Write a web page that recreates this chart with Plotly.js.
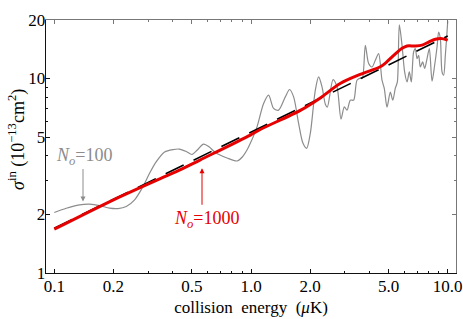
<!DOCTYPE html>
<html>
<head>
<meta charset="utf-8">
<script src="https://cdn.plot.ly/plotly-3.0.1.min.js"></script>
<style>html,body{margin:0;padding:0;background:#fff;}#chart{width:463px;height:319px;}</style>
</head>
<body>
<div id="chart"></div>
<script>
// N_o = 100 (gray, oscillating)
var grayX = [0.1,0.1151,0.1345,0.1512,0.17,0.1911,0.2108,0.2323,0.256,0.2824,0.3051,0.3301,0.3637,0.4014,0.4319,0.469,0.5012,0.5333,0.5741,0.6138,0.6584,0.7551,0.8487,0.9032,0.9543,0.992,1.073,1.159,1.229,1.303,1.381,1.494,1.571,1.647,1.746,1.838,1.918,2.002,2.123,2.207,2.296,2.387,2.443,2.612,2.737,2.868,2.981,3.077,3.198,3.324,3.458,3.595,3.68,3.812,3.963,4.123,4.284,4.454,4.634,4.76,4.913,5.107,5.259,5.415,5.543,5.674,5.857,6.038,6.21,6.379,6.531,6.707,6.843,6.981,7.114,7.256,7.455,7.632,7.85,8.064,8.323,8.579,8.823,8.99,9.172,9.355,9.533,9.723,9.918,10.0];
var grayY = [2.046,2.154,2.24,2.258,2.222,2.154,2.144,2.196,2.376,2.781,3.257,3.736,4.19,4.314,4.339,4.213,4.067,4.289,4.604,4.443,4.165,3.903,3.767,3.948,4.289,4.642,5.646,7.443,8.212,7.018,6.878,8.048,8.782,8.048,5.878,4.642,4.375,5.224,8.71,10.19,9.057,7.382,7.125,9.88,9.057,6.183,7.152,6.878,7.741,7.741,9.8,10.04,10.04,14.82,11.94,11.47,12.41,13.43,9.8,8.886,7.125,8.506,7.741,8.918,9.572,18.88,14.82,10.81,9.607,10.81,9.607,13.69,14.25,12.66,13.17,11.47,12.17,11.26,12.66,14.25,9.687,11.7,14.53,17.34,16.04,10.81,10.4,13.17,17.34,19.79];
// N_o = 1000 (red, smooth)
var redX = [0.1,0.2,0.346,0.417,0.55,0.992,1.115,1.79,2.25,2.84,3.59,4.54,4.82,5.42,5.86,6.21,6.84,7.4,8.0,8.65,9.36,10.0];
var redY = [1.68,2.38,3.06,3.32,3.81,5.12,5.47,6.88,7.95,9.43,10.5,11.5,12.0,13.4,14.3,14.7,14.7,14.85,15.41,15.91,16.04,15.75];
// power-law guide (dashed)
var fitX = [0.1, 10.0];
var fitY = [1.70, 16.55];
// ticks
var xTickVals = [0.1,0.2,0.5,1,2,5,10];
var xTickText = ["0.1","0.2","0.5","1.0","2.0","5.0","10.0"];
var yTickVals = [1,2,5,10,20];
var yTickText = ["1","2","5","10","20"];

var FONT = "Liberation Serif, Times New Roman, serif";
var xr = [-1.042, 1.042];
var yr = [0, Math.log10(20)];

var traces = [
  {x: grayX, y: grayY, mode: 'lines', line: {color: 'rgb(140,140,140)', width: 1.2, shape: 'spline', smoothing: 0.8}, hoverinfo: 'skip'},
  {x: fitX, y: fitY, mode: 'lines', line: {color: '#000', width: 1.6, dash: '20px,11px'}, hoverinfo: 'skip'},
  {x: redX, y: redY, mode: 'lines', line: {color: 'rgb(230,0,0)', width: 3, shape: 'spline', smoothing: 0.9}, hoverinfo: 'skip'},
  {x: [], y: [], xaxis: 'x2', yaxis: 'y2', mode: 'lines', hoverinfo: 'skip'}
];

var layout = {
  width: 463, height: 319,
  margin: {l: 46, r: 7, t: 20, b: 46},
  paper_bgcolor: '#fff', plot_bgcolor: '#fff',
  showlegend: false,
  font: {family: FONT, size: 17, color: '#000'},
  xaxis: {
    type: 'log', range: xr, showgrid: false, zeroline: false,
    showline: true, linecolor: '#111', linewidth: 1.3,
    ticks: 'inside', ticklen: 4, tickcolor: '#111',
    tickvals: xTickVals, ticktext: xTickText,
    tickfont: {family: FONT, size: 17},
    ticklabelstandoff: -3,
    minor: {ticks: 'inside', ticklen: 2, tickcolor: '#111', dtick: 'D1', showgrid: false},
    title: {text: 'collision  energy  (<i>μ</i>K)', font: {family: FONT, size: 17}, standoff: 6}
  },
  yaxis: {
    type: 'log', range: yr, showgrid: false, zeroline: false,
    showline: true, linecolor: '#111', linewidth: 1.3,
    ticks: 'inside', ticklen: 4, tickcolor: '#111',
    tickvals: yTickVals, ticktext: yTickText,
    tickfont: {family: FONT, size: 17},
    ticklabelstandoff: -4,
    minor: {ticks: 'inside', ticklen: 2, tickcolor: '#111', dtick: 'D1', showgrid: false}
  },
  xaxis2: {
    type: 'log', range: xr, overlaying: 'x', side: 'top', anchor: 'y',
    showgrid: false, zeroline: false, showline: true, linecolor: '#777', linewidth: 1.3,
    ticks: 'inside', ticklen: 4, tickcolor: '#777', tickvals: xTickVals, showticklabels: false,
    minor: {ticks: 'inside', ticklen: 2, tickcolor: '#777', dtick: 'D1', showgrid: false}
  },
  yaxis2: {
    type: 'log', range: yr, overlaying: 'y', side: 'right', anchor: 'x',
    showgrid: false, zeroline: false, showline: true, linecolor: '#777', linewidth: 1.3,
    ticks: 'inside', ticklen: 4, tickcolor: '#777', tickvals: yTickVals, showticklabels: false,
    minor: {ticks: 'inside', ticklen: 2, tickcolor: '#777', dtick: 'D1', showgrid: false}
  },
  annotations: [
    {xref: 'paper', yref: 'paper', x: (17-46)/410, y: (273-140)/253, xanchor: 'center', yanchor: 'middle',
     textangle: -90, text: '<i>σ</i><sup>in</sup> (10<sup>−13</sup>cm<sup>2</sup>)', showarrow: false,
     font: {family: FONT, size: 18, color: '#000'}},
    {xref: 'paper', yref: 'paper', x: (84.3-46)/410, y: (273-156)/253, xanchor: 'center', yanchor: 'middle',
     text: '<i>N</i><sub><i>o</i></sub>=100', showarrow: false, font: {family: FONT, size: 18, color: 'rgb(140,140,140)'}},
    {x: Math.log10(0.140), y: Math.log10(2.33), xref: 'x', yref: 'y', text: '', showarrow: true,
     ax: 0, ay: -34, arrowhead: 2, arrowsize: 1, arrowwidth: 1, arrowcolor: 'rgb(140,140,140)'},
    {xref: 'paper', yref: 'paper', x: (206.7-46)/410, y: (273-219.3)/253, xanchor: 'center', yanchor: 'middle',
     text: '<i>N</i><sub><i>o</i></sub>=1000', showarrow: false, font: {family: FONT, size: 18, color: 'rgb(230,0,0)'}},
    {x: Math.log10(0.5636), y: Math.log10(3.455), xref: 'x', yref: 'y', text: '', showarrow: true,
     ax: 0, ay: 38, arrowhead: 2, arrowsize: 1, arrowwidth: 1, arrowcolor: 'rgb(230,0,0)'}
  ]
};

Plotly.newPlot('chart', traces, layout, {staticPlot: true, displayModeBar: false});
</script>
</body>
</html>
